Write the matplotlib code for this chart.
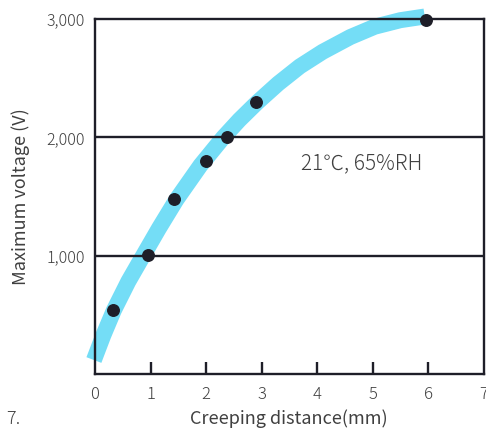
import matplotlib
matplotlib.use("Agg")
import matplotlib.pyplot as plt

plt.rcParams['font.family'] = ['Noto Sans CJK JP', 'DejaVu Sans']
plt.rcParams['font.weight'] = 'light'

# measured points
dist_mm = [0.33, 0.96, 1.42, 2.0, 2.38, 2.90, 5.97]
max_voltage = [545, 1005, 1480, 1800, 2000, 2300, 2995]

# trend band
curve_x = [-0.02, 0.15, 0.34, 0.6, 0.87, 1.15, 1.47, 1.9, 2.31, 2.6, 2.92,
           3.3, 3.69, 4.1, 4.6, 5.04, 5.5, 5.94]
curve_y = [122, 331, 542, 785, 1005, 1232, 1478, 1765, 2000, 2148, 2295,
           2455, 2600, 2723, 2848, 2935, 2990, 3021]

x_ticks = [0, 1, 2, 3, 4, 5, 6, 7]
y_ticks = [1000, 2000, 3000]
y_labels = ["1,000", "2,000", "3,000"]

dark = '#1e1e28'
txt = '#404040'

fig = plt.figure(figsize=(4.86, 4.30), dpi=100)
ax = fig.add_axes([0.1955, 0.1291, 0.7995, 0.8267])
ax.set_xlim(0, 7)
ax.set_ylim(0, 3000)

ax.plot(curve_x, curve_y, color='#74DDF6', lw=11.5, solid_capstyle='butt',
        solid_joinstyle='round', zorder=2, clip_on=False)
for yv in [1000, 2000]:
    ax.axhline(yv, color=dark, lw=1.7, zorder=3)
ax.plot(dist_mm, max_voltage, 'o', color=dark, ms=8.3, zorder=4, clip_on=False)

for s in ax.spines.values():
    s.set_color(dark)
    s.set_linewidth(1.7)
    s.set_zorder(3)

ax.set_xticks(x_ticks)
ax.set_xticklabels([str(v) for v in x_ticks], fontsize=12, color=txt)
ax.tick_params(axis='x', direction='in', length=8.5, width=1.7, color=dark, pad=8)
ax.set_yticks(y_ticks)
ax.set_yticklabels(y_labels, fontsize=11.5, color=txt)
ax.tick_params(axis='y', length=0, pad=7)
xt = ax.xaxis.get_major_ticks()
xt[0].tick1line.set_visible(False)
xt[-1].tick1line.set_visible(False)

ax.set_xlabel("Creeping distance(mm)", fontsize=13, color=txt, labelpad=5)
ax.set_ylabel("Maximum voltage (V)", fontsize=13, color=txt, labelpad=12)

ax.text(4.8, 1780, "21℃, 65%RH", fontsize=15, color=txt, ha='center', va='center')
fig.text(0.012, 0.025, "7.", fontsize=13, color=txt, ha='left', va='center')

fig.savefig("out.png", dpi=100)
